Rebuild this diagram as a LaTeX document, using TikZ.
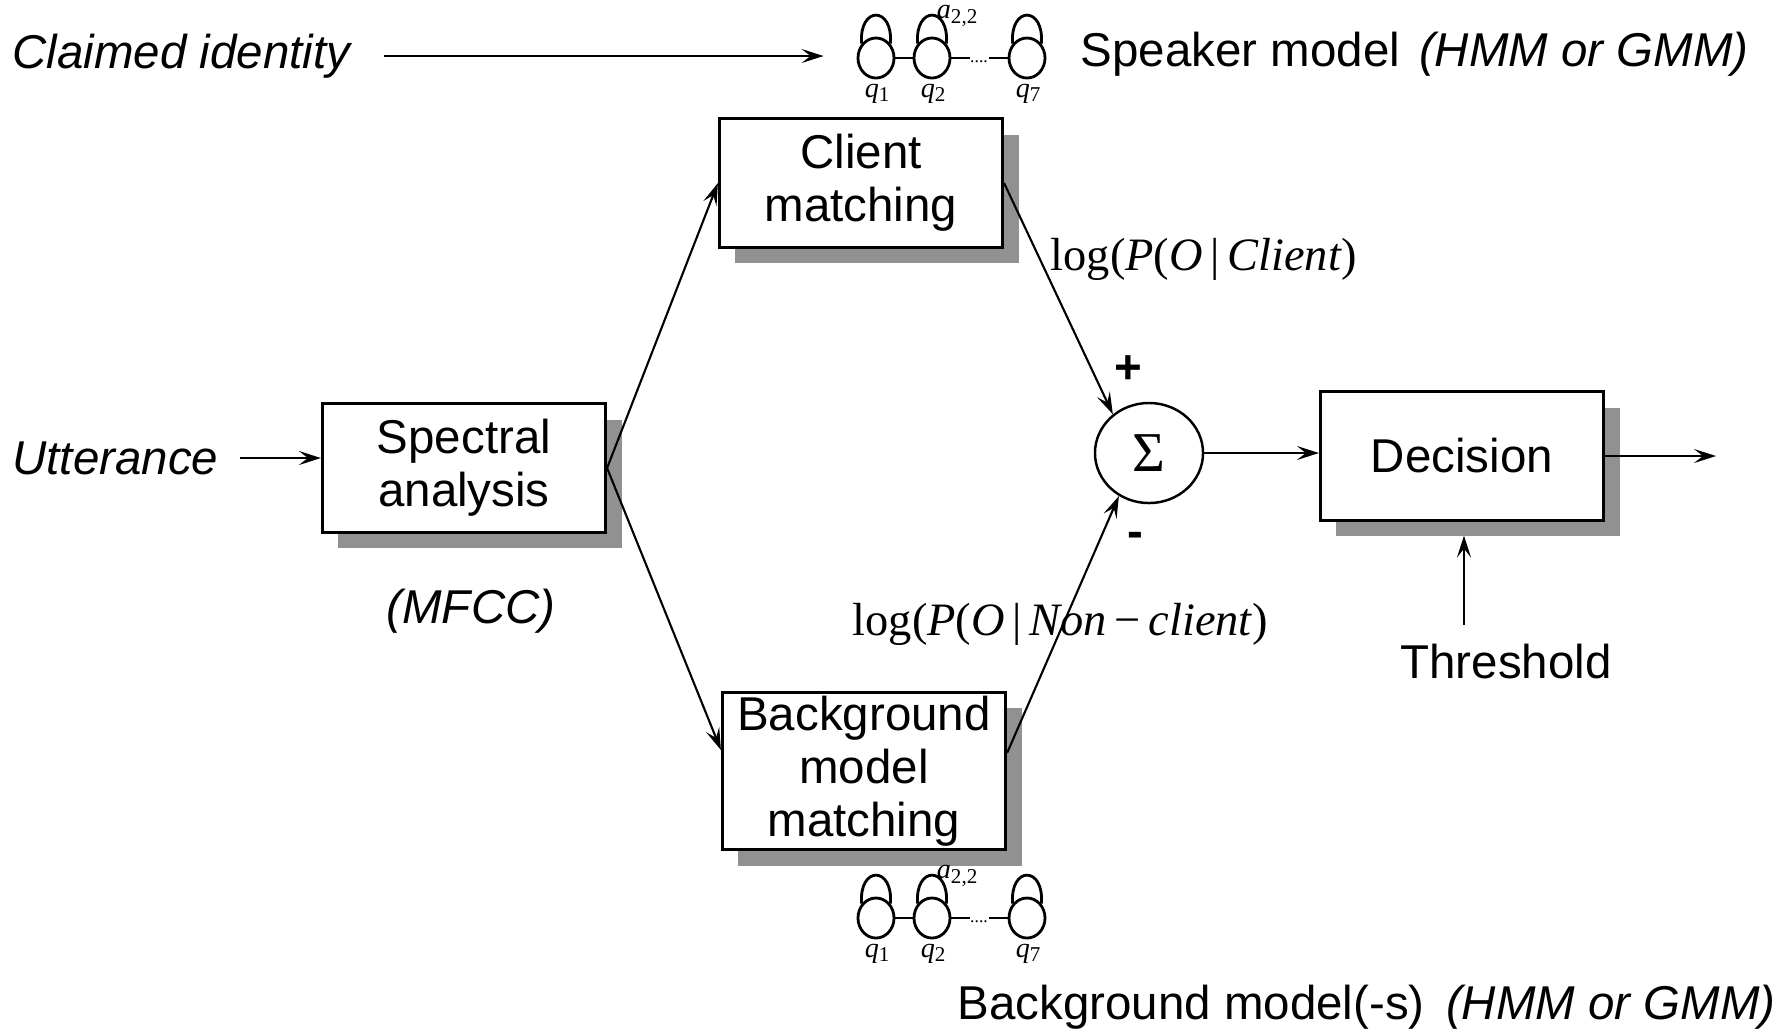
\documentclass[tikz,border=0pt]{standalone}
\usepackage{fontspec}
\setmainfont{Liberation Sans}
\newfontfamily\tms{Liberation Serif}
\usetikzlibrary{
    arrows.meta,
    positioning,
    shadows,
    shapes.geometric
}
\newcommand{\boxfont}{\fontsize{13.5}{15}\selectfont}
\tikzset{
    block/.style={draw, line width=0.85pt, fill=white, minimum width=2.83cm,
        minimum height=1.28cm, inner sep=0pt, align=center, font=\boxfont,
        drop shadow={shadow xshift=0.16cm, shadow yshift=-0.16cm, fill=black!43, opacity=1}},
    sumnode/.style={ellipse, draw, line width=0.7pt, minimum width=1.08cm,
        minimum height=1.0cm, inner sep=0pt},
    state/.style={ellipse, draw, line width=0.8pt, minimum width=0.36cm,
        minimum height=0.40cm, inner sep=0pt},
    hmmline/.style={line width=0.8pt},
    flowarrow/.style={-{Stealth[length=0.22cm, width=0.14cm, inset=0.09cm]}, line width=0.6pt},
    lbl/.style={font=\boxfont, inner sep=0pt},
    loglbl/.style={font=\tms\fontsize{13.2}{15}\selectfont, inner sep=0pt, anchor=west},
    qlbl/.style={font=\tms\fontsize{8}{9}\selectfont\itshape, inner sep=0pt}
}

\begin{document}
\begin{tikzpicture}[x=0.01cm, y=-0.01cm]
    \useasboundingbox (0,0) rectangle (1791,1032);

    \node[block] (spec) at (464,468) {Spectral\\analysis};
    \node[block] (client) at (861,183) {Client\\matching};
    \node[block, minimum height=1.57cm] (bkg) at (864,771) {Background\\model\\matching};
    \node[block] (dec) at (1462,456) {Decision};
    \node[sumnode] (sum) at (1149,453) {\tms\fontsize{16}{16}\selectfont Σ};

    \node[lbl, anchor=east, inner xsep=0.21cm] (utt) at (240,458) {\itshape Utterance};
    \node[lbl, anchor=east, inner xsep=0.33cm] (claim) at (384,56) {\itshape Claimed identity};
    \node[lbl] (mfcc) at (471,611) {\itshape (MFCC)};
    \node[lbl, anchor=north] (thr) at (1506,643) {Threshold};
    \node[lbl, anchor=west] (spkmodel) at (1080,54) {Speaker model\hspace{0.4em}\textit{(HMM or GMM)}};
    \node[lbl, anchor=west] (bkgmodel) at (957,1007) {Background model(-s)\hspace{0.45em}\textit{(HMM or GMM)}};
    \node[lbl, font=\boxfont\bfseries] (plus) at (1128,370) {+};
    \node[lbl, font=\boxfont\bfseries] (minus) at (1135,540) {-};
    \node[loglbl] (logc) at (1050,259) {log(\textit{P}(\textit{O}\,|\,\textit{Client})};
    \node[loglbl] (logn) at (852,624) {log(\textit{P}(\textit{O}\,|\,\textit{Non}\,−\,\textit{client})};

    % HMM chains
    \foreach \m/\y in {spk/58, bkg/918}{
        \node[state] (\m1) at (876,\y) {};
        \node[state] (\m2) at (932,\y) {};
        \node[state] (\m7) at (1027,\y) {};
        \node[inner sep=0pt, font=\tms\fontsize{5}{5}\selectfont] (\m dot) at (979,\y+4) {....};
        \foreach \k in {1,2,7}{
            \draw[hmmline] (\m\k.135) .. controls +(-3,-38) and +(3,-38) .. (\m\k.45);
        }
        \draw[hmmline] (\m1) -- (\m2);
        \draw[hmmline] (\m2.east) -- (\m2.east -| \m dot.west);
        \draw[hmmline] (\m7.west) -- (\m7.west -| \m dot.east);
        \node[qlbl] (\m q1) at (878,\y+36) {q\textsubscript{\upshape 1}};
        \node[qlbl] (\m q2) at (934,\y+36) {q\textsubscript{\upshape 2}};
        \node[qlbl] (\m q7) at (1029,\y+36) {q\textsubscript{\upshape 7}};
        \node[qlbl] (\m a) at (958,\y-42) {a\textsubscript{\upshape 2,2}};
    }

    \draw[flowarrow] (utt.east) -- (utt.east -| spec.west);
    \draw[flowarrow, shorten >=0.33cm] (claim.east) -- (claim.east -| spk1.west);
    \draw[flowarrow] (spec.east) -- (client.west);
    \draw[flowarrow] (spec.east) -- ([yshift=0.21cm]bkg.west);
    \draw[flowarrow] (client.east) -- (sum.133);
    \draw[flowarrow] ([yshift=0.18cm]bkg.east) -- (sum.235);
    \draw[flowarrow] (sum.east) -- (sum.east -| dec.west);
    \coordinate (out) at (1716,456);
    \draw[flowarrow] (dec.east) -- (out);
    \coordinate (thrtop) at ([xshift=-0.42cm, yshift=0.18cm]thr.north);
    \draw[flowarrow, shorten >=0.14cm] (thrtop) -- (thrtop |- dec.south);
\end{tikzpicture}
\end{document}
